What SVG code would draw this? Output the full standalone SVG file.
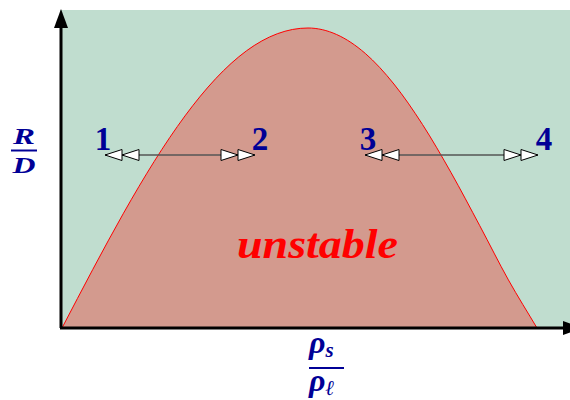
<svg xmlns="http://www.w3.org/2000/svg" width="570" height="400" viewBox="0 0 570 400">
<style>
.lbl{font-family:"Liberation Serif","DejaVu Serif",serif;font-weight:bold;fill:#000096;}
.num{font-size:33px;text-anchor:middle;}
.it{font-style:italic;}
.conn{stroke:#555;stroke-width:1.5;fill:none;}
</style>
<defs>
<marker id="dbl" markerUnits="userSpaceOnUse" markerWidth="40" markerHeight="14" refX="0" refY="0" orient="auto-start-reverse" overflow="visible">
<path d="M0,0 L-17,-5.5 L-17,5.5 Z M-17,0 L-34,-5.5 L-34,5.5 Z" fill="#fff" stroke="#000" stroke-width="1"/>
</marker>
</defs>
<rect x="60" y="10" width="510" height="318" fill="#c0ddcf"/>
<g id="unstable-region">
<path d="M62,328 C82.5,288.73 103,249.48 123.5,213.2 C144,176.92 164.5,143.67 185,115.9 C205.5,88.13 226,65.83 246.5,50.8 C267,35.77 287.5,28 308,28 C317.5,28 327.06,30.27 336.6,34.5 C346.14,38.73 355.7,45.15 365.25,53.4 C374.8,61.65 384.36,72.15 393.9,84 C403.44,95.85 412.97,109.72 422.5,124.5 C432.03,139.28 441.56,155.83 451.1,172.7 C460.64,189.57 470.2,207.83 479.75,225.7 C489.3,243.57 498.86,262.85 508.4,279.9 C517.94,296.95 527.47,311.97 537,328 Z" fill="#d39a8e" stroke="#ff0000" stroke-width="1"/>
<text x="237" y="258" font-family="Liberation Serif, DejaVu Serif, serif" font-weight="bold" font-style="italic" font-size="42" fill="#ff0000" textLength="161" lengthAdjust="spacingAndGlyphs">unstable</text>
</g>
<g id="axes">
<line x1="61" y1="328" x2="61" y2="26" stroke="#000" stroke-width="3"/>
<path d="M61,9 L54,28 L68,28 Z" fill="#000"/>
<line x1="60" y1="328" x2="564" y2="328" stroke="#000" stroke-width="3"/>
<path d="M582,328 L563,321 L563,335 Z" fill="#000"/>
</g>
<g id="connectors">
<line class="conn" x1="105" y1="155" x2="255" y2="155" marker-start="url(#dbl)" marker-end="url(#dbl)"/>
<line class="conn" x1="365" y1="155" x2="538" y2="155" marker-start="url(#dbl)" marker-end="url(#dbl)"/>
</g>
<g id="state1"><text class="lbl num" x="103" y="150">1</text></g>
<g id="state2"><text class="lbl num" x="260" y="150">2</text></g>
<g id="state3"><text class="lbl num" x="368" y="150">3</text></g>
<g id="state4"><text class="lbl num" x="544" y="150">4</text></g>
<g id="y-label">
<text class="lbl it" x="24" y="144" font-size="24" text-anchor="middle" textLength="22" lengthAdjust="spacingAndGlyphs">R</text>
<line x1="11" y1="150.5" x2="37" y2="150.5" stroke="#000096" stroke-width="2"/>
<text class="lbl it" x="24" y="173" font-size="24" text-anchor="middle" textLength="23" lengthAdjust="spacingAndGlyphs">D</text>
</g>
<g id="x-label">
<text class="lbl it" x="309" y="353" font-size="32">ρ<tspan font-size="21" dy="4">s</tspan></text>
<line x1="309" y1="368" x2="344" y2="368" stroke="#000096" stroke-width="2"/>
<text class="lbl it" x="309" y="391" font-size="32">ρ<tspan font-size="21" dy="4">ℓ</tspan></text>
</g>
</svg>
